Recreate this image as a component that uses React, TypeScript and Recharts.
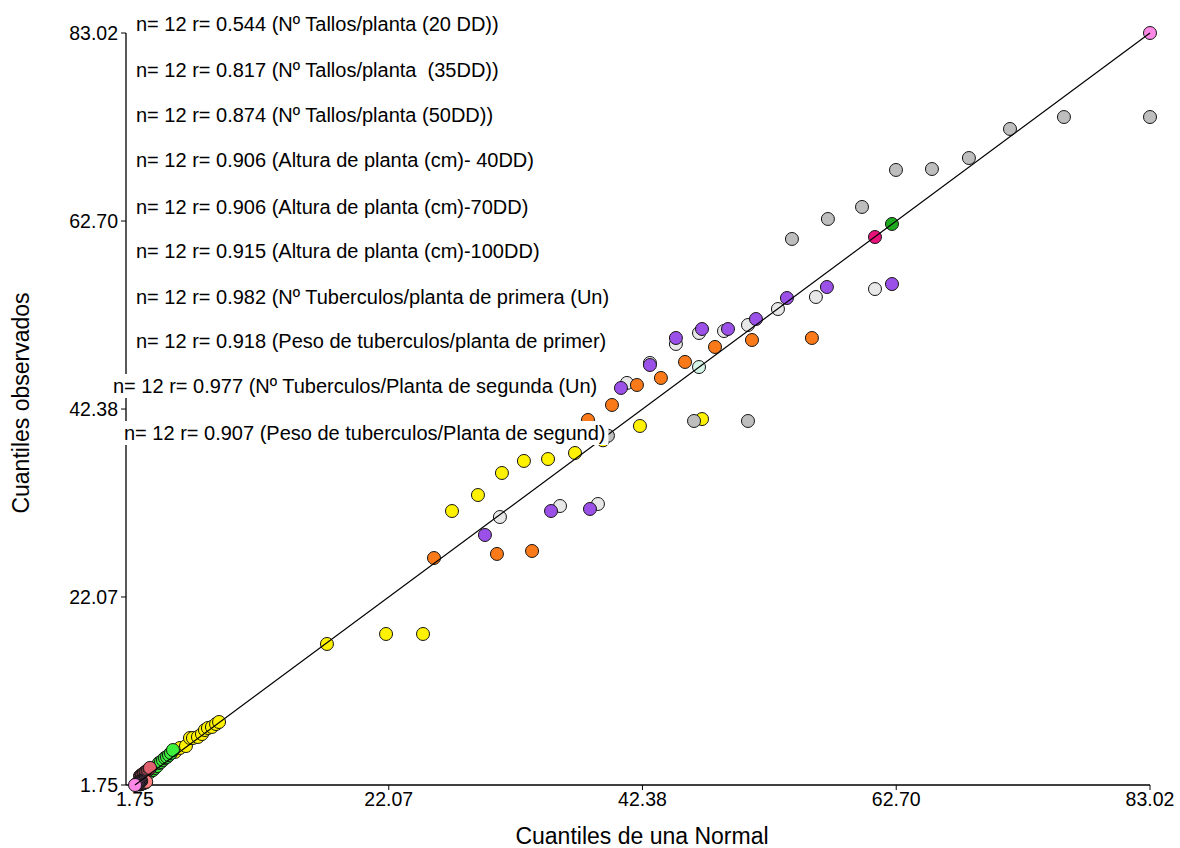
import { useLayoutEffect, useRef, useState } from "react";
import { ScatterChart, Scatter, XAxis, YAxis } from "recharts";

// Cuantiles teóricos (Normal) y observados, 12 por variable
const ejeTicks = [1.75, 22.07, 42.38, 62.7, 83.02];
const diagonal = [1.75, 83.02];

const tallos20Teo = [2.25, 2.2, 2.16, 2.12, 2.08, 2.04, 2.0, 1.95, 1.9, 1.86, 1.8, 1.75];
const tallos20Obs = [2.2, 2.14, 2.1, 2.06, 2.02, 1.98, 1.94, 1.9, 1.86, 1.82, 1.78, 1.75];

const tallos35Teo = [2.1, 2.15, 2.2, 2.25, 2.3, 2.35, 2.4, 2.45, 2.5, 2.55, 2.6, 2.65];
const tallos35Obs = [1.8, 1.82, 1.85, 1.88, 1.9, 1.92, 1.95, 1.98, 2.0, 2.03, 2.06, 2.1];

const tallos50Teo = [2.15, 2.2, 2.3, 2.35, 2.45, 2.5, 2.6, 2.65, 2.75, 2.8, 2.9, 2.95];
const tallos50Obs = [2.7, 2.75, 2.85, 2.9, 3.0, 3.05, 3.15, 3.2, 3.3, 3.4, 3.5, 3.6];

const altura40Teo = [17.12, 21.85, 24.81, 27.13, 29.21, 31.13, 32.89, 34.82, 36.98, 39.22, 42.18, 47.15];
const altura40Obs = [16.99, 18.07, 18.07, 31.36, 33.09, 35.47, 36.77, 36.98, 37.63, 39.0, 40.55, 41.3];

const altura70Teo = [30.97, 35.78, 38.82, 41.14, 42.98, 45.06, 46.91, 48.91, 50.83, 53.23, 56.27, 61.0];
const altura70Obs = [30.71, 31.9, 32.12, 45.2, 47.36, 49.41, 50.6, 50.81, 51.46, 53.19, 54.49, 55.35];

const altura100Teo = [39.62, 46.51, 50.83, 54.35, 57.23, 59.96, 62.68, 65.56, 68.52, 71.81, 76.13, 83.02];
const altura100Obs = [39.5, 41.09, 41.09, 60.76, 62.92, 64.22, 68.22, 68.32, 69.51, 72.65, 73.94, 73.94];

const tuberPrimeraTeo = [2.95, 3.19, 3.35, 3.51, 3.67, 3.83, 3.99, 4.15, 4.31, 4.47, 4.63, 4.79];
const tuberPrimeraObs = [3.15, 3.37, 3.59, 3.8, 4.13, 4.24, 4.45, 4.67, 4.78, 4.99, 5.21, 5.53];

const pesoPrimeraTeo = [29.77, 35.06, 38.18, 40.66, 42.98, 45.06, 47.15, 49.23, 51.47, 53.95, 57.15, 62.36];
const pesoPrimeraObs = [28.77, 31.36, 31.58, 44.66, 47.14, 50.06, 51.03, 51.03, 52.11, 54.38, 55.57, 55.89];

const tuberSegundaTeo = [4.95, 5.35, 5.83, 6.15, 6.39, 6.79, 7.11, 7.35, 7.59, 7.91, 8.24, 8.48];
const tuberSegundaObs = [5.32, 5.75, 5.96, 6.83, 6.83, 6.94, 7.26, 7.69, 7.91, 8.02, 8.34, 8.56];

const pesoSegundaTeo = [25.69, 30.73, 33.54, 35.86, 38.02, 39.94, 41.94, 43.86, 45.79, 48.19, 51.15, 55.95];
const pesoSegundaObs = [26.28, 26.72, 27.04, 39.9, 41.2, 42.82, 44.98, 45.74, 47.47, 49.09, 49.84, 50.06];

// puntos sueltos sobre la recta
const sueltosTeo = [61.0, 62.36, 46.91, 83.02];
const sueltosObs = [60.97, 62.38, 46.92, 83.02];
const sueltosColores = ["#E8127A", "#1EAA1E", "#D6F5E6", "#FF88E6"];

const leyenda = [
  "n= 12 r= 0.544 (N\u00BA Tallos/planta (20 DD))",
  "n= 12 r= 0.817 (N\u00BA Tallos/planta  (35DD))",
  "n= 12 r= 0.874 (N\u00BA Tallos/planta (50DD))",
  "n= 12 r= 0.906 (Altura de planta (cm)- 40DD)",
  "n= 12 r= 0.906 (Altura de planta (cm)-70DD)",
  "n= 12 r= 0.915 (Altura de planta (cm)-100DD)",
  "n= 12 r= 0.982 (N\u00BA Tuberculos/planta de primera (Un)",
  "n= 12 r= 0.918 (Peso de tuberculos/planta de primer)",
  "n= 12 r= 0.977 (N\u00BA Tuberculos/Planta de segunda (Un)",
  "n= 12 r= 0.907 (Peso de tuberculos/Planta de segund)",
];
const leyendaX = [136, 136, 136, 136, 136, 136, 136, 136, 113, 124];
const leyendaY = [24, 70, 115, 160, 207, 251, 297, 341, 386, 433];

const FONT = '"Liberation Sans", Arial, sans-serif';

const zip = (teo: number[], obs: number[]) => teo.map((x, i) => ({ x, y: obs[i] }));

const series = [
  { key: "tuberSegunda", data: zip(tuberSegundaTeo, tuberSegundaObs), color: "#FFF200" },
  { key: "tuberPrimera", data: zip(tuberPrimeraTeo, tuberPrimeraObs), color: "#3CF03C" },
  { key: "tallos50", data: zip(tallos50Teo, tallos50Obs), color: "#E06070" },
  { key: "tallos35", data: zip(tallos35Teo, tallos35Obs), color: "#FF8080" },
  { key: "tallos20", data: zip(tallos20Teo, tallos20Obs), color: "#FF88E6" },
  { key: "altura40", data: zip(altura40Teo, altura40Obs), color: "#FFF200" },
  { key: "altura100", data: zip(altura100Teo, altura100Obs), color: "#BEBEBE" },
  { key: "altura70", data: zip(altura70Teo, altura70Obs), color: "#E8E8E8" },
  { key: "pesoPrimera", data: zip(pesoPrimeraTeo, pesoPrimeraObs), color: "#9B50E8" },
  { key: "pesoSegunda", data: zip(pesoSegundaTeo, pesoSegundaObs), color: "#FA7A1A" },
];

const punto = (fill: string) => (props: any) => (
  <circle cx={props.cx} cy={props.cy} r={6.5} fill={fill} stroke="#151515" strokeWidth={1} />
);

const FilaLeyenda = ({ x, y, texto }: { x: number; y: number; texto: string }) => {
  const ref = useRef<SVGTextElement>(null);
  const [ancho, setAncho] = useState(0);
  useLayoutEffect(() => {
    if (ref.current) setAncho(ref.current.getComputedTextLength());
  }, [texto]);
  return (
    <g>
      <rect x={x - 2} y={y - 12} width={ancho + 5} height={24} fill="#fff" />
      <text
        ref={ref}
        x={x}
        y={y}
        dominantBaseline="central"
        fontSize={20}
        fontFamily={FONT}
        fill="#000"
        style={{ whiteSpace: "pre" }}
      >
        {texto}
      </text>
    </g>
  );
};

const App = () => {
  const tick = { fill: "#000", fontSize: 19.5, fontFamily: FONT };
  return (
    <div style={{ position: "relative", width: 1180, height: 848, background: "#fff" }}>
      <style>{"body{margin:0}"}</style>
      <ScatterChart width={1180} height={848} margin={{ top: 33, right: 30, bottom: 0, left: 0 }}>
        <XAxis
          type="number"
          dataKey="x"
          domain={[1.75, 83.02]}
          ticks={ejeTicks}
          interval={0}
          padding={{ left: 9, right: 0 }}
          tickFormatter={(v: number) => v.toFixed(2)}
          height={63}
          tickSize={5}
          tickMargin={2}
          tick={tick}
          axisLine={{ stroke: "#000", strokeWidth: 1.3 }}
          tickLine={{ stroke: "#000" }}
        />
        <YAxis
          type="number"
          dataKey="y"
          domain={[1.75, 83.02]}
          ticks={ejeTicks}
          interval={0}
          tickFormatter={(v: number) => v.toFixed(2)}
          width={126}
          tickSize={5}
          tickMargin={3}
          tick={tick}
          axisLine={{ stroke: "#000", strokeWidth: 1.3 }}
          tickLine={{ stroke: "#000" }}
        />
        {series.map((s) => (
          <Scatter key={s.key} data={s.data} shape={punto(s.color)} isAnimationActive={false} />
        ))}
        {sueltosTeo.map((x, i) => (
          <Scatter
            key={`suelto-${i}`}
            data={[{ x, y: sueltosObs[i] }]}
            shape={punto(sueltosColores[i])}
            isAnimationActive={false}
          />
        ))}
        <Scatter
          data={diagonal.map((v) => ({ x: v, y: v }))}
          line={{ stroke: "#000", strokeWidth: 1.2 }}
          shape={() => <g />}
          isAnimationActive={false}
        />
      </ScatterChart>
      <svg
        width={1180}
        height={848}
        style={{ position: "absolute", left: 0, top: 0, pointerEvents: "none" }}
      >
        {leyenda.map((t, i) => (
          <FilaLeyenda key={i} x={leyendaX[i]} y={leyendaY[i]} texto={t} />
        ))}
        <text x={642} y={836} textAnchor="middle" dominantBaseline="central" fontSize={23} fontFamily={FONT}>
          Cuantiles de una Normal
        </text>
        <text
          x={21}
          y={403}
          textAnchor="middle"
          dominantBaseline="central"
          fontSize={23}
          fontFamily={FONT}
          transform="rotate(-90 21 403)"
        >
          Cuantiles observados
        </text>
      </svg>
    </div>
  );
};

export default App;
